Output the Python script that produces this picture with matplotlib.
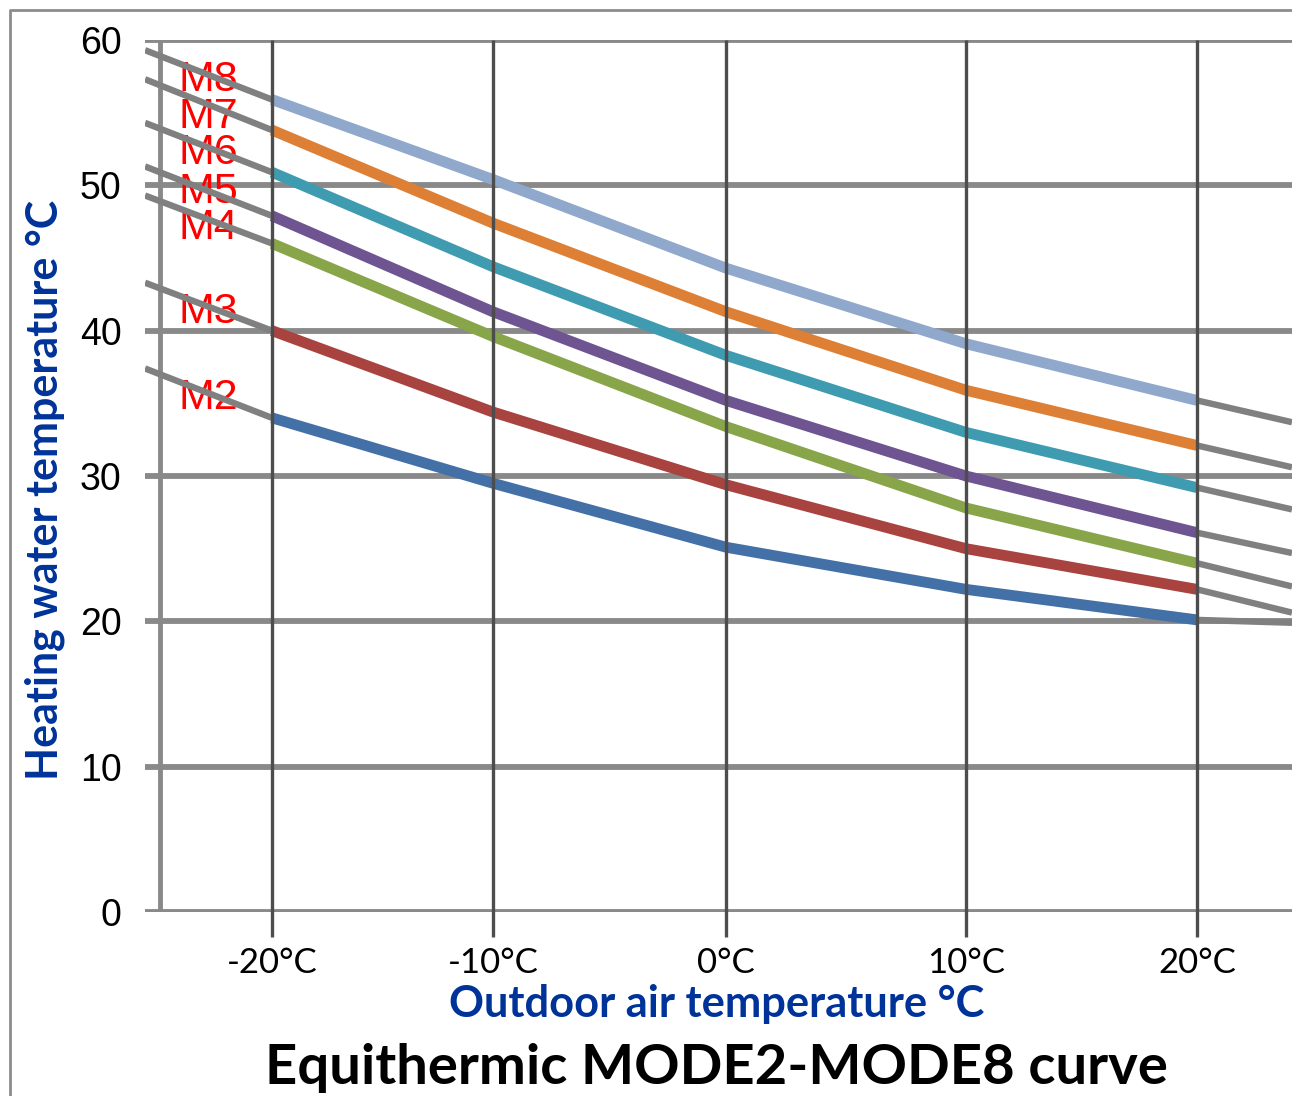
import matplotlib.pyplot as plt
import numpy as np
from matplotlib import font_manager

# outdoor temperature steps and heating water curves
outdoor = [-20, -10, 0, 10, 20]
x_labels = ['-20°C', '-10°C', '0°C', '10°C', '20°C']
y_ticks = [0, 10, 20, 30, 40, 50, 60]
modes = ['M2', 'M3', 'M4', 'M5', 'M6', 'M7', 'M8']
m2 = [34.0, 29.5, 25.1, 22.2, 20.1]
m3 = [40.0, 34.4, 29.4, 25.0, 22.2]
m4 = [46.0, 39.6, 33.4, 27.8, 24.0]
m5 = [47.9, 41.3, 35.2, 30.0, 26.1]
m6 = [50.9, 44.4, 38.3, 33.0, 29.2]
m7 = [53.8, 47.4, 41.3, 35.9, 32.1]
m8 = [55.9, 50.4, 44.3, 39.1, 35.2]
# grey continuation of each curve at the left and right edge of the plot
ext_left = [37.4, 43.3, 49.3, 51.3, 54.3, 57.3, 59.3]
ext_right = [19.9, 20.6, 22.4, 24.7, 27.7, 30.6, 33.7]
colors = ['#4470a8', '#a84340', '#88a54a', '#6e5490', '#3f9bb0', '#dd8036', '#8fa8cc']

curves = [m2, m3, m4, m5, m6, m7, m8]

W, H = 1292, 1096
fig = plt.figure(figsize=(W / 100, H / 100), dpi=100)

names = {f.name for f in font_manager.fontManager.ttflist}
narrow = 'Liberation Sans Narrow' if 'Liberation Sans Narrow' in names else 'Liberation Sans'

# the category columns in the original are not quite evenly spaced:
# map temperature to horizontal pixel position piecewise
col_px = [272, 493, 726, 966, 1197]
lo_step = (col_px[1] - col_px[0]) / 10
hi_step = (col_px[-1] - col_px[-2]) / 10
xs_k = np.array([-200] + outdoor + [200], dtype=float)
px_k = np.array([col_px[0] - 180 * lo_step] + col_px + [col_px[-1] + 180 * hi_step])


def fwd(x):
    return np.interp(x, xs_k, px_k)


def inv(p):
    return np.interp(p, px_k, xs_k)


x_left = inv(145)
x_right = inv(1292)
axis_x = inv(160)

ax = fig.add_axes([145 / W, 1 - 912 / H, (1292 - 145) / W, (912 - 40) / H])
ax.set_xscale('function', functions=(fwd, inv))
ax.set_xlim(x_left, x_right)
ax.set_ylim(0, 60)
for s in ax.spines.values():
    s.set_visible(False)

grid_grey = '#898989'
for yv in y_ticks:
    ax.axhline(yv, color=grid_grey, lw=4.2, zorder=1, solid_capstyle='butt')
# left value axis line
ax.plot([axis_x, axis_x], [0, 60], color=grid_grey, lw=3.5, zorder=1)

for i, vals in enumerate(curves):
    ax.plot([x_left, outdoor[0]], [ext_left[i], vals[0]], color='#808080', lw=4.6,
            zorder=3, solid_capstyle='butt')
    ax.plot([outdoor[-1], x_right], [vals[-1], ext_right[i]], color='#808080', lw=4.6,
            zorder=3, solid_capstyle='butt')
    ax.plot(outdoor, vals, color=colors[i], lw=7.8, zorder=4,
            solid_capstyle='butt', solid_joinstyle='round')

# dark vertical lines at each outdoor temperature, running a little below the axis
ax.vlines(outdoor, -1.7, 60, colors='#4d4d4d', lw=2.4, zorder=5, clip_on=False)

# curve names on the left
label_base = [34.6, 40.5, 46.3, 48.8, 51.5, 53.95, 56.5]
label_x = inv(179)
for name, yb in zip(modes, label_base):
    ax.text(label_x, yb, name, color='#ff0000', fontsize=31, family='Liberation Sans',
            ha='left', va='baseline', zorder=2)

ax.set_xticks(outdoor, labels=x_labels)
ax.set_yticks(y_ticks, labels=[str(v) for v in y_ticks])
ax.tick_params(axis='x', length=0, pad=25, labelsize=25)
ax.tick_params(axis='y', length=0, pad=17, labelsize=27)
for t in ax.get_xticklabels():
    t.set_family('Lato')
for t in ax.get_yticklabels():
    t.set_family(narrow)

# frame of the picture
fig.add_artist(plt.Line2D([10 / W, 10 / W, 1], [0, 1 - 10 / H, 1 - 10 / H],
                          color='#8c8c8c', lw=2))

xl = fig.text(717 / W, 1 - 1004 / H, 'Outdoor air temperature °C', color='#003399',
              fontsize=26, weight='bold', family='Lato', ha='center', va='center')
yl = fig.text(45 / W, 1 - 490 / H, 'Heating water temperature °C', color='#003399',
              fontsize=26, weight='bold', family='Lato', ha='center', va='center',
              rotation=90)
tl = fig.text(716 / W, 1 - 1068 / H, 'Equithermic MODE2-MODE8 curve', color='black',
              fontsize=40, weight='bold', family='Lato', ha='center', va='center')

# size the three captions to the widths measured on the reference
fig.canvas.draw()
r = fig.canvas.get_renderer()
for t, target in [(xl, 535), (yl, 580), (tl, 903)]:
    bb = t.get_window_extent(r)
    size = bb.height if t is yl else bb.width
    t.set_fontsize(t.get_fontsize() * target / size)

fig.savefig('out.png', dpi=100)
